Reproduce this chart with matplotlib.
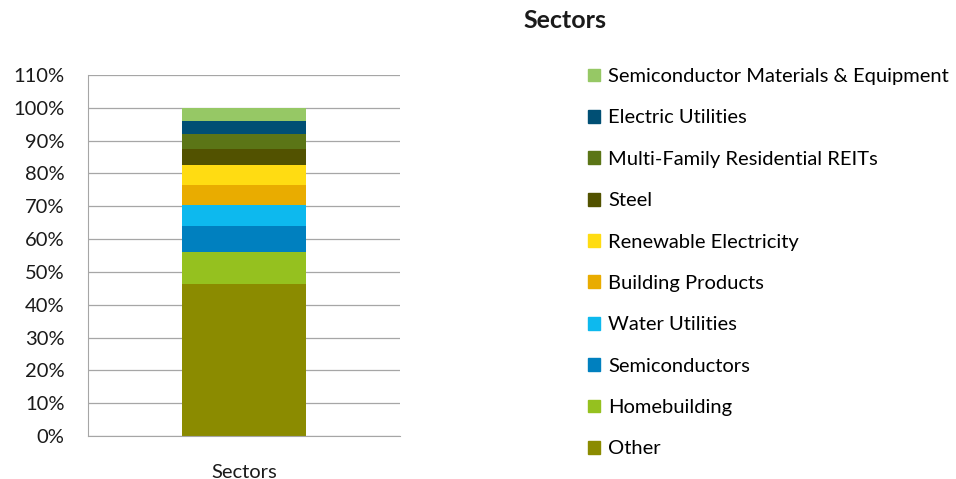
import matplotlib.pyplot as plt
import matplotlib.patches as mpatches
from matplotlib.ticker import FuncFormatter, MultipleLocator

plt.rcParams['font.family'] = ['Lato', 'DejaVu Sans']

# data (bottom to top)
sectors = ['Other', 'Homebuilding', 'Semiconductors', 'Water Utilities',
           'Building Products', 'Renewable Electricity', 'Steel',
           'Multi-Family Residential REITs', 'Electric Utilities',
           'Semiconductor Materials & Equipment']
shares = [46.3, 9.8, 7.8, 6.4, 6.1, 6.1, 4.9, 4.6, 3.9, 4.1]
colors = ['#8B8B00', '#95C11F', '#0080BF', '#0DB9EE', '#E9AC00',
          '#FFDC12', '#525200', '#5B7516', '#004F74', '#96C865']
category = 'Sectors'

fig = plt.figure(figsize=(9.56, 4.79), dpi=100)
ax = fig.add_axes([88 / 956, 43 / 479, 312 / 956, 361 / 479])

bottom = 0
for name, val, col in zip(sectors, shares, colors):
    ax.bar([category], [val], bottom=bottom, width=0.4, color=col, label=name)
    bottom += val

ax.set_xlim(-0.5, 0.5)
ax.set_ylim(0, 110)
ax.yaxis.set_major_locator(MultipleLocator(10))
ax.yaxis.set_major_formatter(FuncFormatter(lambda v, p: f'{v:.0f}%'))
ax.yaxis.grid(True, color='#A6A6A6', linewidth=0.9)
ax.set_axisbelow(True)
for s in ['top', 'right']:
    ax.spines[s].set_visible(False)
for s in ['left', 'bottom']:
    ax.spines[s].set_color('#A6A6A6')
ax.tick_params(axis='both', length=0, labelsize=14.5, colors='#1a1a1a')
ax.tick_params(axis='x', pad=20)
ax.tick_params(axis='y', pad=17)

handles = [mpatches.Patch(color=c, label=n) for n, c in zip(sectors, colors)][::-1]
fig.legend(handles=handles, loc='upper left', bbox_to_anchor=(570 / 956, 1 - 50 / 479),
           frameon=False, fontsize=14.5, labelspacing=1.21,
           handlelength=0.6, handleheight=0.6, handletextpad=0.4)

fig.text(565 / 956, 1 - 20 / 479, 'Sectors', ha='center', va='center',
         fontsize=18, fontweight='bold', color='#1a1a1a')

fig.savefig('out.png', dpi=100, facecolor='white')
